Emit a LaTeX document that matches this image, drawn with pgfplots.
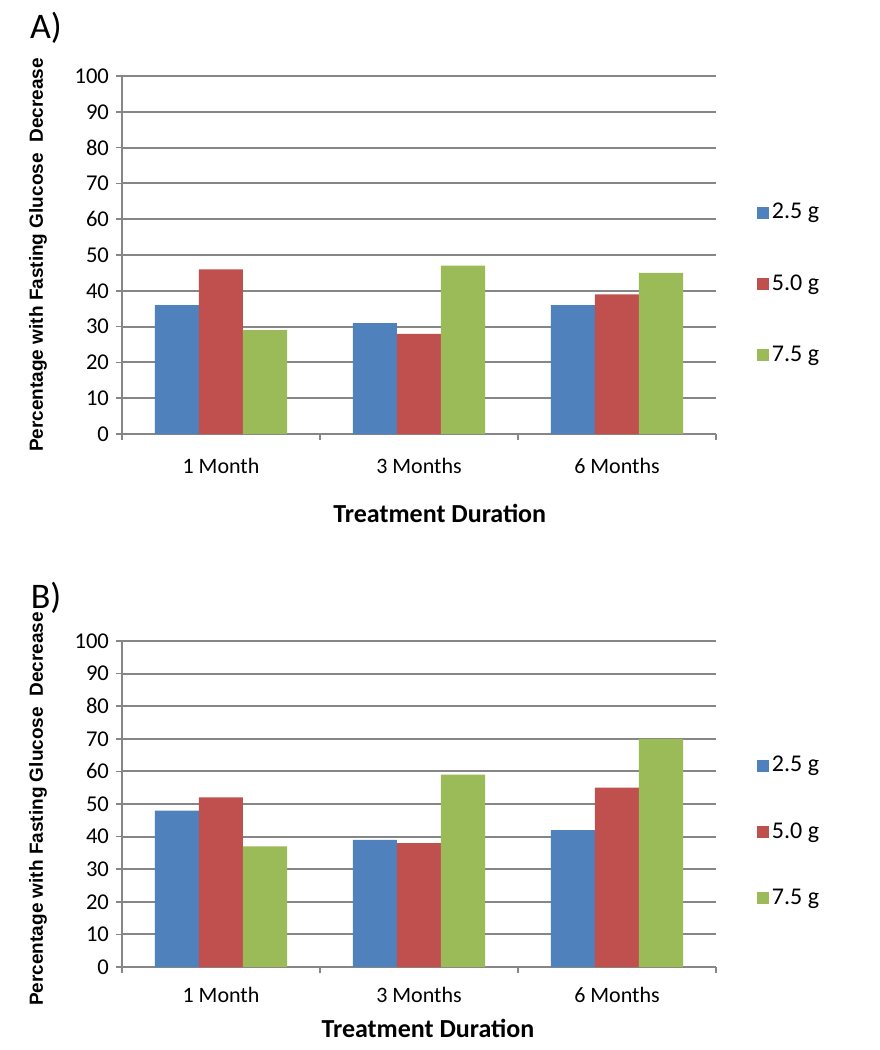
\documentclass[border=0pt]{standalone}
\usepackage{fontspec}
\setmainfont{Carlito}
\newfontfamily\arialfont{Liberation Sans}
\usepackage{pgfplots}
\pgfplotsset{compat=1.18}
\definecolor{cblue}{RGB}{79,129,189}
\definecolor{cred}{RGB}{192,80,77}
\definecolor{cgreen}{RGB}{155,187,89}
\definecolor{gridgray}{RGB}{134,134,134}
\pgfplotsset{
  panel/.style={
    scale only axis, width=297pt,
    xmin=0, xmax=3, ymin=0, ymax=100,
    ybar=0pt, bar width=22pt,
    axis x line*=bottom, axis y line*=left,
    axis line style={gridgray, line width=1pt},
    xtick={0,1,2,3}, xticklabels={},
    extra x ticks={0.5,1.5,2.5},
    extra x tick labels={1 Month,3 Months,6 Months},
    ytick={0,10,...,100},
    ymajorgrids, grid style={gridgray, line width=1pt},
    tick align=outside, major tick length=3pt,
    tick style={gridgray, line width=0.8pt},
    /pgf/number format/assume math mode=true,
    yticklabel style={font=\fontsize{11.3}{13}\selectfont},
    ylabel={\arialfont\bfseries Percentage with Fasting Glucose \ Decrease},
    ylabel style={font=\fontsize{9.5}{11}\selectfont},
    xlabel={\bfseries Treatment Duration},
    legend image code/.code={\path[#1] (0pt,-3pt) rectangle (6pt,3pt);},
    legend style={draw=none, fill=none, inner sep=0pt, outer sep=0pt,
      font=\fontsize{12}{14}\selectfont, legend cell align=left,
      nodes={inner sep=1.5pt}},
  }
}
\begin{document}
\begin{tikzpicture}
\path[use as bounding box] (0,0) rectangle (439.5pt,-525pt);
\node[font=\fontsize{18}{20}\selectfont] at (23pt,-14pt) {A)};
\node[font=\fontsize{18}{20}\selectfont] at (23pt,-299pt) {B)};
\begin{axis}[panel, at={(61pt,-217pt)}, anchor=south west, height=179pt,
  extra x tick style={major tick length=0pt, xticklabel style={font=\fontsize{11}{13}\selectfont, yshift=-8.5pt}},
  ylabel style={at={(axis description cs:-0.1414,0.5)}, anchor=center},
  xlabel style={at={(axis description cs:0.535,-0.222)}, anchor=center, font=\fontsize{13}{15}\selectfont},
  legend style={at={(axis description cs:1.069,0.42)}, anchor=west, row sep=23.3pt}]
\addplot[fill=cblue, draw=none] coordinates {(0.5,36) (1.5,31) (2.5,36)};
\addplot[fill=cred, draw=none] coordinates {(0.5,46) (1.5,28) (2.5,39)};
\addplot[fill=cgreen, draw=none] coordinates {(0.5,29) (1.5,47) (2.5,45)};
\legend{2.5 g, 5.0 g, 7.5 g}
\end{axis}
\begin{axis}[panel, at={(61pt,-483.5pt)}, anchor=south west, height=163pt,
  extra x tick style={major tick length=0pt, xticklabel style={font=\fontsize{11}{13}\selectfont, yshift=-6.5pt}},
  ylabel style={at={(axis description cs:-0.1414,0.485)}, anchor=center},
  xlabel style={at={(axis description cs:0.515,-0.187)}, anchor=center, font=\fontsize{13}{15}\selectfont},
  legend style={at={(axis description cs:1.069,0.415)}, anchor=west, row sep=20.8pt}]
\addplot[fill=cblue, draw=none] coordinates {(0.5,48) (1.5,39) (2.5,42)};
\addplot[fill=cred, draw=none] coordinates {(0.5,52) (1.5,38) (2.5,55)};
\addplot[fill=cgreen, draw=none] coordinates {(0.5,37) (1.5,59) (2.5,70)};
\legend{2.5 g, 5.0 g, 7.5 g}
\end{axis}
\end{tikzpicture}
\end{document}
